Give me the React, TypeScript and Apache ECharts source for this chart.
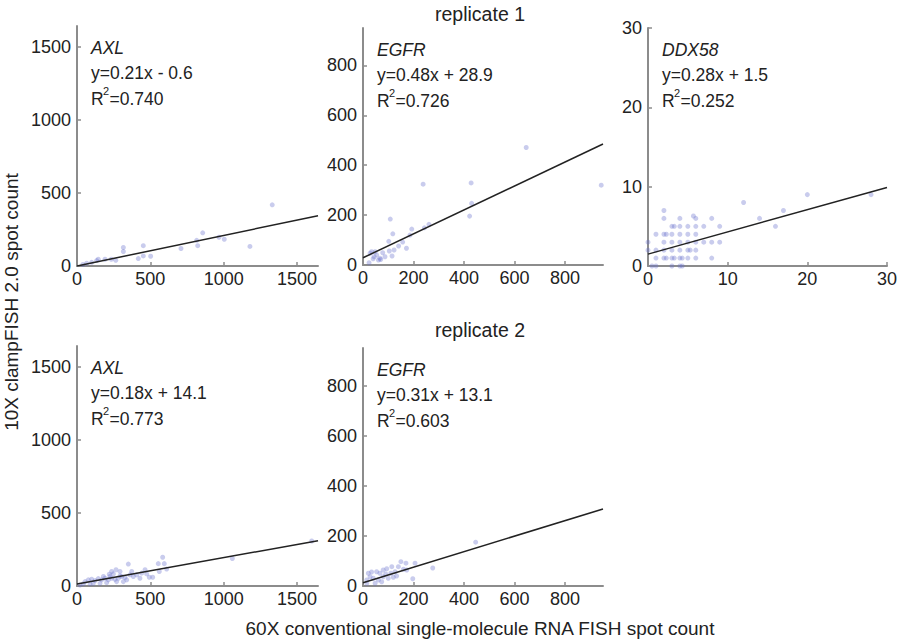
import React, { useEffect, useRef } from 'react';
import * as echarts from 'echarts';

// ---- data ----
const axlRep1: number[][] = [
  [1331, 419], [857, 227], [816, 176], [823, 139], [968, 197], [1004, 183], [1179, 134],
  [709, 120], [452, 139], [452, 69], [502, 67], [418, 51], [316, 127], [316, 99],
  [264, 39], [234, 46], [191, 46], [145, 46], [134, 37], [66, 19], [40, 10], [100, 25],
];
const egfrRep1: number[][] = [
  [646, 471], [943, 320], [238, 324], [428, 329], [430, 247], [422, 196], [261, 163],
  [243, 149], [108, 184], [118, 125], [193, 144], [186, 120], [102, 95], [141, 76],
  [172, 67], [157, 92], [115, 36], [104, 56], [78, 49], [54, 40], [34, 53], [44, 33],
  [67, 27], [24, 9], [48, 53], [28, 47], [87, 33], [61, 20], [123, 60], [40, 25], [70, 22],
];
const ddx58Rep1: number[][] = [
  [20, 9], [28, 9], [12, 8], [17, 7], [14, 6], [16, 5], [9, 5], [9, 3], [8, 3], [8, 1],
  [7, 5], [8, 6], [6, 5], [6, 4], [6, 3], [6, 2], [6, 1], [6, 6], [5.7, 6.3],
  [5, 5], [5, 4], [5, 3], [5, 2], [5, 1], [4, 6], [4, 5], [4, 4], [4, 3], [4, 2], [4, 1], [4, 0],
  [3, 5], [3, 4], [3, 3], [3, 2], [3, 1], [3, 0], [2, 7], [2, 6], [2, 4], [2, 3], [2, 2], [2, 1],
  [1, 4], [1, 2], [1, 1], [1, 0], [0, 3], [0, 2], [7, 3], [3.3, 5], [2.3, 4], [4.3, 1], [3.3, 1],
  [2.3, 1], [5.3, 2], [4.3, 0], [0.5, 0],
];
const axlRep2: number[][] = [
  [1600, 308], [1059, 188], [584, 197], [595, 153], [554, 153], [611, 116], [561, 99],
  [516, 60], [493, 60], [429, 53], [350, 150], [373, 99], [361, 76], [293, 69], [266, 111],
  [236, 99], [225, 65], [180, 65], [55, 30], [77, 42], [100, 46], [123, 37], [145, 51],
  [168, 42], [191, 53], [214, 42], [236, 53], [259, 46], [282, 53], [305, 65], [327, 58],
  [339, 42], [316, 30], [270, 30], [202, 23], [157, 18], [111, 18], [89, 14], [43, 14],
  [20, 7], [384, 65], [407, 76], [441, 88], [475, 83], [464, 111], [248, 83], [293, 99], [220, 81],
];
const egfrRep2: number[][] = [
  [446, 175], [276, 72], [197, 29], [206, 91], [170, 91], [150, 97], [173, 64], [140, 77],
  [114, 77], [110, 51], [94, 69], [133, 40], [80, 37], [67, 51], [54, 57], [34, 56], [28, 37],
  [41, 31], [61, 24], [15, 24], [15, 11], [48, 11], [74, 17], [100, 31], [120, 35], [90, 48],
  [21, 51], [127, 57], [160, 67], [80, 64],
];

const slopes = [0.21, 0.48, 0.28, 0.18, 0.31];
const intercepts = [-0.6, 28.9, 1.5, 14.1, 13.1];
const geneNames = ['AXL', 'EGFR', 'DDX58', 'AXL', 'EGFR'];
const equations = ['y=0.21x - 0.6', 'y=0.48x + 28.9', 'y=0.28x + 1.5', 'y=0.18x + 14.1', 'y=0.31x + 13.1'];
const rSquared = ['=0.740', '=0.726', '=0.252', '=0.773', '=0.603'];
const axisMax = [1643, 950, 30, 1643, 950];
const axlTicks = [0, 500, 1000, 1500];
const egfrTicks = [0, 200, 400, 600, 800];
const ddxTicks = [0, 10, 20, 30];
const panelTicks = [axlTicks, egfrTicks, ddxTicks, axlTicks, egfrTicks];
const panelData = [axlRep1, egfrRep1, ddx58Rep1, axlRep2, egfrRep2];
const replicateTitles = ['replicate 1', 'replicate 2'];
const xAxisTitle = '60X conventional single-molecule RNA FISH spot count';
const yAxisTitle = '10X clampFISH 2.0 spot count';

// ---- layout ----
const grids = [
  { left: 77, top: 26, width: 241, height: 240 },
  { left: 363, top: 28, width: 240, height: 237 },
  { left: 648, top: 28, width: 239, height: 238 },
  { left: 77, top: 346, width: 241, height: 240 },
  { left: 363, top: 348, width: 240, height: 238 },
];
const FONT = 'Liberation Sans, Arial, sans-serif';
const AXIS_COLOR = '#8c8c8c';
const POINT_COLOR = 'rgba(105, 115, 205, 0.45)';

export default function App() {
  const ref = useRef<HTMLDivElement>(null);
  useEffect(() => {
    if (!ref.current) return;
    const chart = echarts.init(ref.current, null, { renderer: 'svg' });

    const xAxes: any[] = [];
    const yAxes: any[] = [];
    const series: any[] = [];
    const graphics: any[] = [];

    grids.forEach((g, i) => {
      const base = (isX: boolean) => ({
        type: 'value',
        gridIndex: i,
        min: 0,
        max: axisMax[i],
        axisLine: { show: true, onZero: false, lineStyle: { color: AXIS_COLOR, width: 2 } },
        axisTick: { show: true, inside: true, length: 4, customValues: panelTicks[i], lineStyle: { color: AXIS_COLOR, width: 1.5 } },
        axisLabel: {
          customValues: panelTicks[i], fontSize: 18, color: '#222', fontFamily: FONT,
          margin: isX ? 4 : 6, formatter: (v: number) => String(v),
        },
        splitLine: { show: false },
      });
      xAxes.push(base(true));
      yAxes.push(base(false));
      series.push({
        type: 'scatter',
        xAxisIndex: i,
        yAxisIndex: i,
        data: panelData[i],
        symbolSize: 5,
        itemStyle: { color: POINT_COLOR },
        silent: true,
        z: 2,
      });
      const m = axisMax[i];
      series.push({
        type: 'line',
        xAxisIndex: i,
        yAxisIndex: i,
        data: [[0, intercepts[i]], [m, slopes[i] * m + intercepts[i]]],
        showSymbol: false,
        symbol: 'none',
        lineStyle: { color: '#222', width: 1.5 },
        silent: true,
        z: 3,
      });
      const tx = g.left + 14;
      const ty = g.top;
      graphics.push({
        type: 'text', left: tx, top: ty + 13,
        style: { text: geneNames[i], font: `italic 17.5px ${FONT}`, fill: '#222' },
      });
      graphics.push({
        type: 'text', left: tx, top: ty + 38,
        style: { text: equations[i], font: `17.5px ${FONT}`, fill: '#222' },
      });
      graphics.push({
        type: 'text', left: tx, top: ty + 64,
        style: { text: 'R', font: `17.5px ${FONT}`, fill: '#222' },
      });
      graphics.push({
        type: 'text', left: tx + 12, top: ty + 59,
        style: { text: '2', font: `11px ${FONT}`, fill: '#222' },
      });
      graphics.push({
        type: 'text', left: tx + 18.5, top: ty + 64,
        style: { text: rSquared[i], font: `17.5px ${FONT}`, fill: '#222' },
      });
    });

    graphics.push({
      type: 'text', x: 480, y: 14,
      style: { text: replicateTitles[0], font: `19.5px ${FONT}`, fill: '#222', align: 'center', verticalAlign: 'middle' },
    });
    graphics.push({
      type: 'text', x: 480, y: 330,
      style: { text: replicateTitles[1], font: `19.5px ${FONT}`, fill: '#222', align: 'center', verticalAlign: 'middle' },
    });
    graphics.push({
      type: 'text', x: 480, y: 628,
      style: { text: xAxisTitle, font: `19px ${FONT}`, fill: '#222', align: 'center', verticalAlign: 'middle' },
    });
    graphics.push({
      type: 'text', x: 11, y: 302, rotation: Math.PI / 2,
      style: { text: yAxisTitle, font: `19px ${FONT}`, fill: '#222', align: 'center', verticalAlign: 'middle' },
    });

    chart.setOption({
      animation: false,
      backgroundColor: '#fff',
      grid: grids.map((g) => ({ ...g, containLabel: false })),
      xAxis: xAxes,
      yAxis: yAxes,
      series,
      graphic: graphics,
    });
    return () => chart.dispose();
  }, []);
  return <div ref={ref} style={{ position: 'fixed', left: 0, top: 0, width: 900, height: 642 }} />;
}
